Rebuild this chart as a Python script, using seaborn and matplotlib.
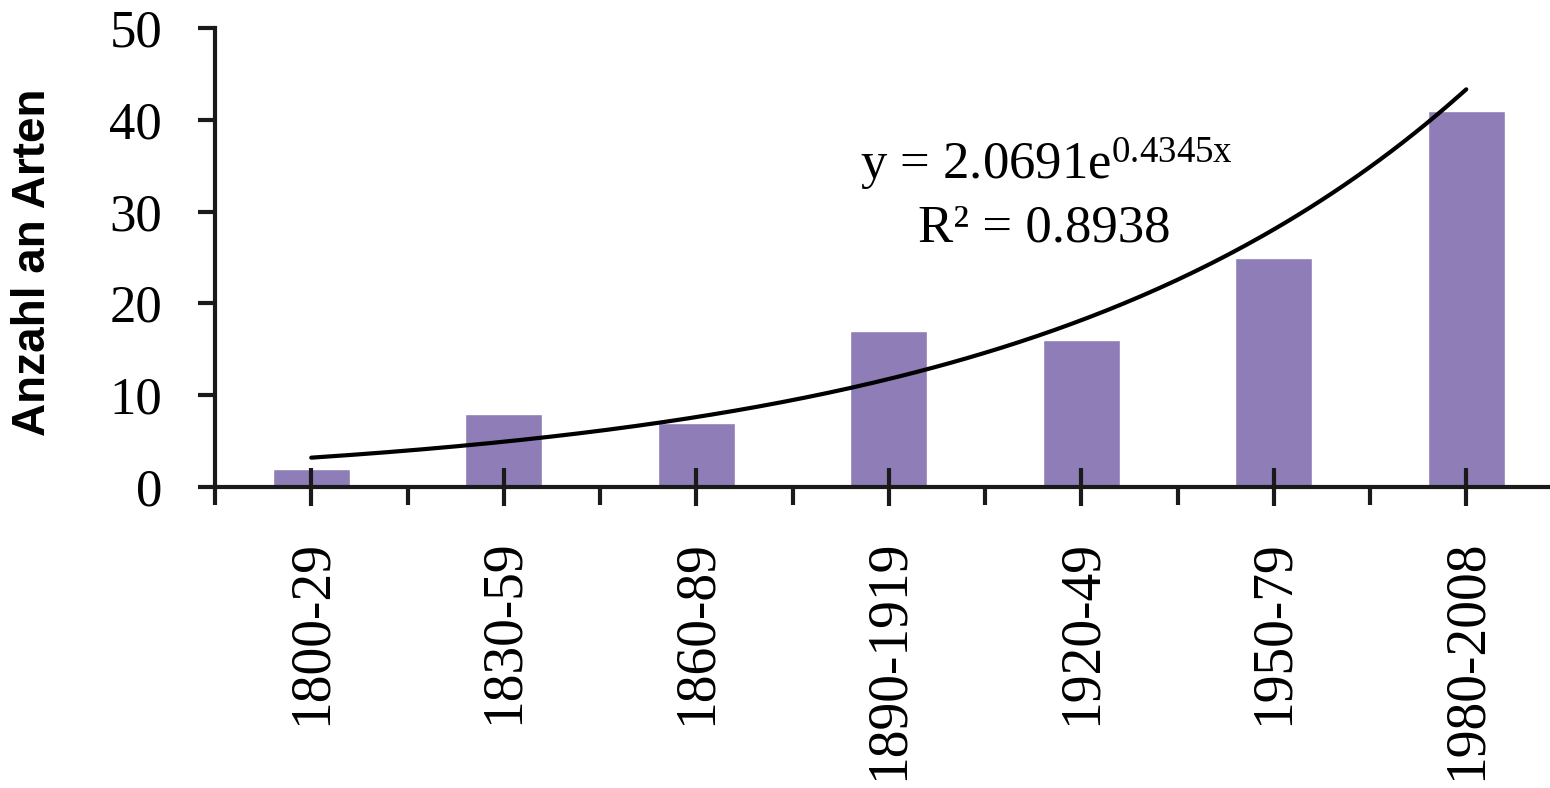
import numpy as np
import pandas as pd
import matplotlib
matplotlib.use('Agg')
import matplotlib.pyplot as plt
from matplotlib.ticker import FixedLocator
import seaborn as sns

# Data
periods = ['1800-29', '1830-59', '1860-89', '1890-1919', '1920-49', '1950-79', '1980-2008']
counts = [2, 8, 7, 17, 16, 25, 41]
# Exponential trendline shown in the chart: y = a * exp(b * x), x = 1..7
trend_a = 2.0691
trend_b = 0.4345
trend_label = 'y = 2.0691e$^{0.4345x}$'
r2_label = 'R² = 0.8938'
y_ticks = [0, 10, 20, 30, 40, 50]

sns.set_style('white')
plt.rcParams['font.family'] = ['Liberation Serif', 'DejaVu Serif']
plt.rcParams['mathtext.fontset'] = 'custom'
plt.rcParams['mathtext.rm'] = 'Liberation Serif'
plt.rcParams['mathtext.default'] = 'rm'
plt.rcParams['text.color'] = 'black'
plt.rcParams['xtick.color'] = 'black'
plt.rcParams['ytick.color'] = 'black'

df = pd.DataFrame({'period': periods, 'count': counts})

fig = plt.figure(figsize=(15.5, 7.88), dpi=100)
ax = fig.add_axes([215 / 1550, 1 - 487 / 788, 1347.5 / 1550, 459 / 788])

sns.barplot(data=df, x='period', y='count', color='#8e7db6', width=0.4,
            saturation=1, ax=ax)

# Trendline over the category positions
xs = np.linspace(0, len(periods) - 1, 200)
trend = pd.DataFrame({'x': xs, 'y': trend_a * np.exp(trend_b * (xs + 1))})
sns.lineplot(data=trend, x='x', y='y', color='black', linewidth=3, ax=ax)

ax.set_axisbelow(False)
ax.set_xlim(-0.5, len(periods) - 0.5)
ax.set_ylim(0, 50)
ax.set_yticks(y_ticks)
ax.set_xlabel('')
ax.set_ylabel('Anzahl an Arten', family='Liberation Sans',
              fontweight='bold', fontsize=33, color='black')
ax.yaxis.set_label_coords(-0.119, 0.49)

for side in ['top', 'right']:
    ax.spines[side].set_visible(False)
for side in ['left', 'bottom']:
    ax.spines[side].set_linewidth(3)
    ax.spines[side].set_color('#1a1a1a')

ax.tick_params(axis='y', direction='out', length=12, width=3, color='#1a1a1a',
               labelsize=38, pad=26, left=True)
ax.tick_params(axis='x', which='major', direction='inout', length=28, width=3,
               color='#1a1a1a', labelsize=40, pad=24, bottom=True, labelrotation=90)
ax.xaxis.set_minor_locator(FixedLocator(np.arange(-0.5, len(periods), 1.0)))
ax.tick_params(axis='x', which='minor', direction='out', length=13, width=3,
               color='#1a1a1a', bottom=True)
for lab in ax.get_xticklabels():
    lab.set_verticalalignment('top')

ax.text(3.82, 35.1, trend_label, ha='center', va='center', fontsize=38)
ax.text(3.81, 28.2, r2_label, ha='center', va='center', fontsize=38)

fig.savefig('out.png', dpi=100)
